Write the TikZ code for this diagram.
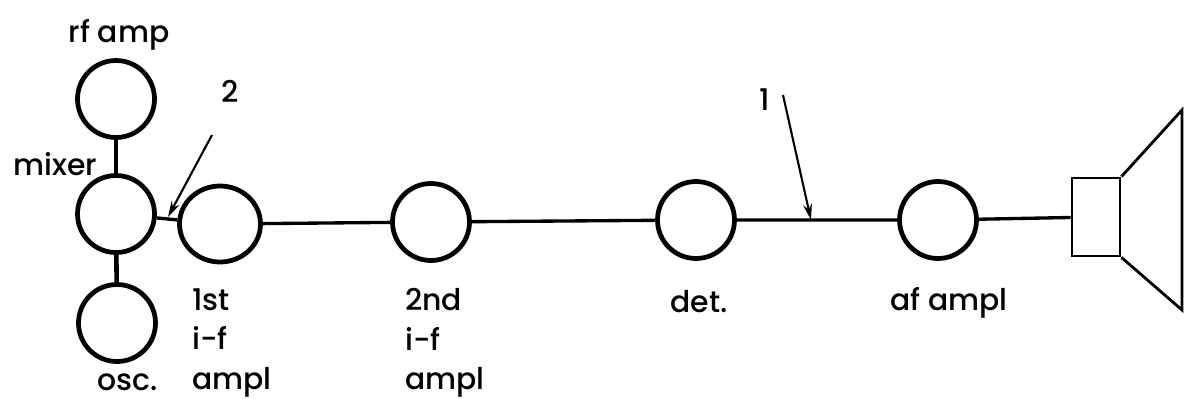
\documentclass[tikz,border=0pt]{standalone}
\usepackage{fontspec}
\setmainfont{Poppins Medium}
\usetikzlibrary{arrows.meta,shapes.geometric}
\tikzset{
  stage/.style={draw,circle,line width=2.7pt,minimum size=1.54cm,inner sep=0pt},
  lbl/.style={inner sep=0pt,font=\fontsize{17}{22.5}\selectfont},
  pointer/.style={line width=1.2pt,-{Stealth[length=9pt,width=5pt]}}
}
\begin{document}
\begin{tikzpicture}
\useasboundingbox (0,-3.56) rectangle (23.7,4.4);
% stages
\node[stage] (rf) at (2.32,2.42) {};
\node[stage] (mixer) at (2.32,0.12) {};
\node[stage] (osc) at (2.34,-2.06) {};
\node[stage,ellipse,minimum width=1.62cm,minimum height=1.52cm] (if1) at (4.4,-0.08) {};
\node[stage] (if2) at (8.62,-0.04) {};
\node[stage] (det) at (13.92,0) {};
\node[stage] (af) at (18.76,0) {};
% loudspeaker
\node[draw,line width=1.6pt,minimum width=0.96cm,minimum height=1.56cm,inner sep=0pt] (box) at (21.92,0.06) {};
\coordinate (conetop) at (23.64,2.2);
\coordinate (conebot) at (23.64,-1.8);
\draw[line width=1.6pt] (box.north east) -- (conetop) -- (conebot) -- (box.south east);
% connections
\draw[line width=2pt] (rf) -- (mixer);
\draw[line width=2.6pt] (mixer) -- (osc);
\draw[line width=1.9pt] (mixer) -- (if1) -- (if2) -- (det) -- (af) -- (box);
% labels
\node[lbl,anchor=base] (rflbl) at (2.38,3.56) {rf amp};
\node[lbl,anchor=base west] (mixlbl) at (0.26,0.9) {mixer};
\node[lbl,anchor=base west] (osclbl) at (1.94,-3.4) {osc.};
\node[lbl,anchor=north west,align=left] (if1lbl) at (3.84,-1.36) {1st\\i-f\\ampl};
\node[lbl,anchor=north west,align=left] (if2lbl) at (8.1,-1.36) {2nd\\i-f\\ampl};
\node[lbl,anchor=base west] (detlbl) at (13.4,-1.84) {det.};
\node[lbl,anchor=base west] (aflbl) at (17.8,-1.8) {af ampl};
% pointers
\node[lbl,anchor=base] (one) at (15.3,2.2) {1};
\node[lbl,anchor=base] (two) at (4.6,2.36) {2};
\coordinate (onetail) at (15.66,2.5);
\coordinate (onetip) at (16.22,0);
\coordinate (twotail) at (4.24,1.7);
\coordinate (twotip) at (3.36,0.06);
\draw[pointer] (onetail) -- (onetip);
\draw[pointer] (twotail) -- (twotip);
\end{tikzpicture}
\end{document}
